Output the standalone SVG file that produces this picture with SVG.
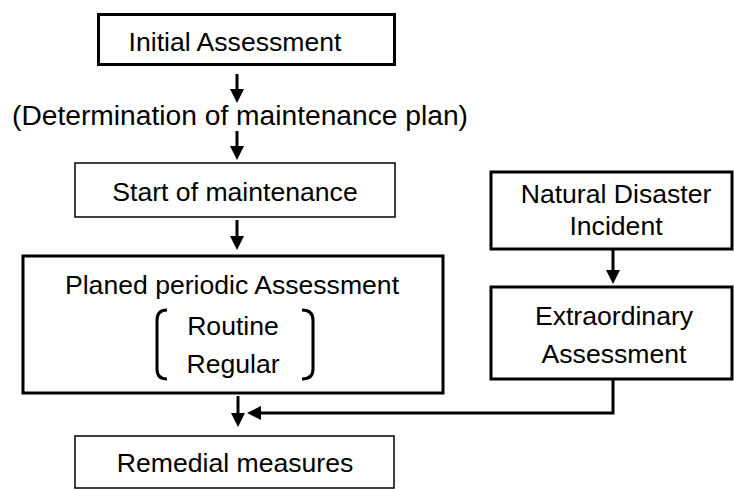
<svg xmlns="http://www.w3.org/2000/svg" width="734" height="490" viewBox="0 0 734 490">
<style>
.box{fill:#fff;stroke:#000;stroke-width:3}
.thin{fill:#fff;stroke:#000;stroke-width:1.5}
.t{font-family:"Liberation Sans",Arial,sans-serif;font-size:26.6px;fill:#000;text-anchor:middle}
.c{fill:none;stroke:#000;stroke-width:3}
</style>
<defs>
<marker id="ah" markerUnits="userSpaceOnUse" markerWidth="14" markerHeight="14" refX="8" refY="7" orient="auto">
<path d="M0,0 L14,7 L0,14 z" fill="#000"/>
</marker>
</defs>
<g id="initial"><rect class="box" x="98.5" y="14.5" width="296" height="50"/><text class="t" x="235" y="51">Initial Assessment</text></g>
<g id="plan-label"><text class="t" x="240" y="125" style="font-size:28.2px">(Determination of maintenance plan)</text></g>
<g id="start"><rect class="thin" x="75" y="163" width="320" height="54"/><text class="t" x="235" y="201">Start of maintenance</text></g>
<g id="periodic"><rect class="box" x="23" y="256" width="420" height="137"/>
<text class="t" x="232" y="294">Planed periodic Assessment</text>
<text class="t" x="233" y="335">Routine</text>
<text class="t" x="233" y="373">Regular</text>
<path class="c" d="M167,310 Q157,310 157,320 L157,369 Q157,379 167,379"/>
<path class="c" d="M302,310 Q313,310 313,320 L313,369 Q313,379 302,379"/>
</g>
<g id="disaster"><rect class="box" x="491" y="172" width="241" height="77"/><text class="t" x="616" y="203">Natural Disaster</text><text class="t" x="616" y="235">Incident</text></g>
<g id="extraordinary"><rect class="box" x="491" y="287" width="241" height="92"/><text class="t" x="614" y="325">Extraordinary</text><text class="t" x="614" y="363">Assessment</text></g>
<g id="remedial"><rect class="thin" x="75" y="436" width="319" height="52"/><text class="t" x="235" y="472">Remedial measures</text></g>
<g id="connectors">
<path class="c" d="M237,74 L237,97" marker-end="url(#ah)"/>
<path class="c" d="M237,131 L237,154" marker-end="url(#ah)"/>
<path class="c" d="M237,220 L237,244" marker-end="url(#ah)"/>
<path class="c" d="M613,250 L613,278" marker-end="url(#ah)"/>
<path class="c" d="M238,396 L238,421" marker-end="url(#ah)"/>
<path class="c" d="M613,380 L613,413 L253,413" marker-end="url(#ah)"/>
</g>
</svg>
